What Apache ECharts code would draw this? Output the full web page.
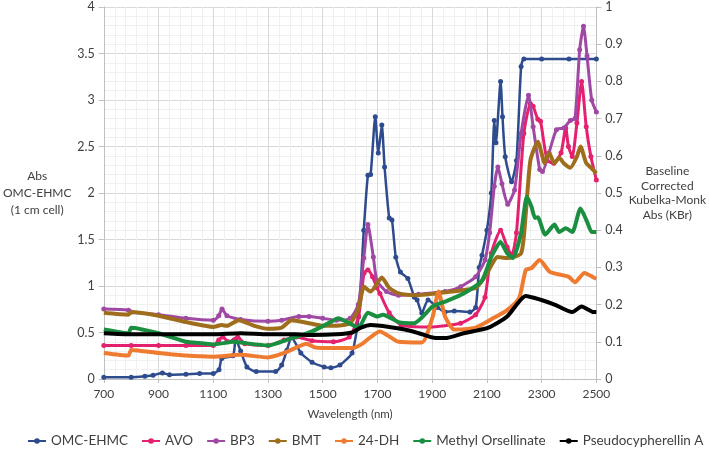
<!DOCTYPE html>
<html>
<head>
<meta charset="utf-8">
<script src="https://cdn.jsdelivr.net/npm/echarts@6/dist/echarts.min.js"></script>
<style>
  html, body { margin: 0; padding: 0; background: #fff; }
  #chart { width: 709px; height: 452px; }
</style>
</head>
<body>
<div id="chart"></div>
<script>
// [wavelength nm, Abs] - left axis
const omcEhmc = [[700,0.02],[800,0.02],[850,0.03],[880,0.04],[914,0.065],[940,0.045],[1000,0.05],[1050,0.06],[1100,0.06],
  [1121,0.1],[1131,0.22],[1172,0.25],[1182,0.43],[1200,0.3],[1223,0.13],[1257,0.08],[1328,0.08],[1350,0.15],[1369,0.31],
  [1386,0.45],[1420,0.28],[1461,0.18],[1505,0.13],[1530,0.12],[1563,0.15],[1607,0.28],[1631,0.67],[1650,1.6],[1665,2.19],
  [1675,2.2],[1692,2.82],[1703,2.43],[1716,2.73],[1726,2.28],[1743,1.73],[1753,1.71],[1767,1.31],[1784,1.15],[1811,1.08],
  [1835,0.88],[1845,0.85],[1862,0.71],[1885,0.85],[1919,0.77],[1947,0.72],[1981,0.73],[2038,0.72],[2059,0.77],[2072,1.2],
  [2082,1.33],[2100,1.6],[2116,2.0],[2127,2.78],[2133,2.54],[2150,3.2],[2157,2.82],[2167,2.39],[2190,2.12],[2208,2.35],
  [2225,3.36],[2235,3.44],[2300,3.44],[2400,3.44],[2500,3.44]];

// [wavelength nm, KM Abs] - right axis
const avo = [[700,0.09],[800,0.09],[900,0.09],[1000,0.09],[1100,0.09],[1120,0.105],[1135,0.113],[1155,0.1],[1175,0.105],
  [1189,0.113],[1215,0.095],[1300,0.09],[1359,0.105],[1403,0.113],[1461,0.103],[1539,0.1],[1597,0.113],[1631,0.168],
  [1651,0.285],[1665,0.293],[1682,0.275],[1698,0.245],[1709,0.23],[1743,0.178],[1787,0.145],[1889,0.14],[2004,0.15],
  [2059,0.173],[2093,0.22],[2116,0.338],[2150,0.4],[2174,0.355],[2191,0.333],[2208,0.393],[2235,0.66],[2259,0.74],
  [2269,0.733],[2286,0.698],[2296,0.693],[2320,0.588],[2344,0.58],[2371,0.608],[2388,0.675],[2398,0.625],[2412,0.598],
  [2429,0.688],[2446,0.8],[2463,0.678],[2480,0.598],[2500,0.535]];

const bp3 = [[700,0.188],[790,0.185],[800,0.18],[900,0.173],[1000,0.163],[1100,0.158],[1120,0.17],[1132,0.188],[1150,0.17],
  [1200,0.16],[1300,0.155],[1350,0.158],[1413,0.168],[1450,0.168],[1500,0.163],[1550,0.158],[1600,0.163],[1630,0.2],
  [1650,0.325],[1665,0.415],[1685,0.328],[1698,0.265],[1733,0.235],[1777,0.225],[1850,0.228],[1947,0.235],[2004,0.248],
  [2059,0.275],[2093,0.32],[2110,0.393],[2127,0.518],[2140,0.57],[2155,0.525],[2176,0.47],[2201,0.508],[2225,0.66],
  [2252,0.763],[2269,0.678],[2293,0.563],[2303,0.558],[2327,0.608],[2354,0.67],[2381,0.675],[2405,0.695],[2422,0.7],
  [2439,0.885],[2453,0.948],[2466,0.868],[2483,0.75],[2500,0.718]];

const bmt = [[700,0.178],[790,0.173],[800,0.18],[900,0.17],[1000,0.153],[1100,0.14],[1130,0.145],[1150,0.143],[1193,0.158],
  [1250,0.143],[1300,0.135],[1350,0.138],[1386,0.158],[1450,0.15],[1500,0.143],[1550,0.143],[1600,0.15],[1630,0.188],
  [1651,0.248],[1675,0.235],[1716,0.273],[1743,0.245],[1777,0.23],[1845,0.225],[1913,0.23],[1947,0.233],[2059,0.245],
  [2093,0.275],[2140,0.328],[2174,0.325],[2225,0.338],[2242,0.445],[2259,0.588],[2286,0.638],[2303,0.598],[2310,0.58],
  [2327,0.608],[2347,0.58],[2364,0.595],[2381,0.58],[2405,0.568],[2429,0.598],[2442,0.625],[2463,0.58],[2480,0.568],
  [2500,0.553]];

const dh24 = [[700,0.07],[790,0.063],[800,0.078],[900,0.07],[1000,0.063],[1100,0.06],[1199,0.065],[1300,0.058],[1359,0.07],
  [1413,0.088],[1440,0.095],[1471,0.085],[1500,0.083],[1550,0.083],[1607,0.083],[1641,0.093],[1709,0.128],[1777,0.1],
  [1862,0.098],[1902,0.168],[1923,0.235],[1947,0.168],[1981,0.133],[2059,0.138],[2127,0.165],[2174,0.185],[2218,0.218],
  [2242,0.293],[2263,0.298],[2293,0.32],[2330,0.288],[2398,0.275],[2422,0.26],[2456,0.285],[2490,0.273],[2500,0.27]];

const methylOrsellinate = [[700,0.133],[790,0.123],[800,0.138],[900,0.123],[1000,0.1],[1029,0.098],[1100,0.093],[1175,0.1],
  [1200,0.098],[1301,0.09],[1369,0.105],[1461,0.128],[1529,0.153],[1556,0.163],[1597,0.15],[1631,0.138],[1665,0.178],
  [1699,0.168],[1720,0.173],[1777,0.153],[1834,0.15],[1902,0.195],[1947,0.208],[2015,0.23],[2082,0.265],[2116,0.328],
  [2150,0.368],[2174,0.338],[2195,0.325],[2225,0.393],[2246,0.49],[2263,0.463],[2276,0.433],[2286,0.435],[2313,0.388],
  [2347,0.415],[2364,0.395],[2388,0.405],[2412,0.395],[2442,0.458],[2466,0.423],[2483,0.395],[2500,0.395]];

const pseudocypherellinA = [[700,0.123],[800,0.12],[900,0.12],[1000,0.12],[1100,0.12],[1200,0.123],[1300,0.12],[1400,0.12],
  [1460,0.118],[1550,0.12],[1607,0.125],[1640,0.138],[1675,0.145],[1743,0.14],[1800,0.133],[1851,0.123],[1913,0.11],
  [1947,0.11],[2015,0.123],[2106,0.138],[2174,0.168],[2242,0.223],[2296,0.213],[2347,0.2],[2412,0.18],[2446,0.195],
  [2490,0.18],[2500,0.18]];

const seriesNames = ['OMC-EHMC', 'AVO', 'BP3', 'BMT', '24-DH', 'Methyl Orsellinate', 'Pseudocypherellin A'];
const seriesColors = ['#2E4C8D', '#E4216E', '#A049A4', '#9E6E1C', '#EE7B30', '#1B8F40', '#000000'];
const seriesData = [omcEhmc, avo, bp3, bmt, dh24, methylOrsellinate, pseudocypherellinA];
const withMarkers = [true, true, true, false, false, false, false];

const font = 'Lato';
const chart = echarts.init(document.getElementById('chart'));

const series = seriesNames.map((name, i) => ({
  name: name,
  type: 'line',
  yAxisIndex: i === 0 ? 0 : 1,
  data: seriesData[i],
  smooth: 0.2,
  symbol: 'circle',
  symbolSize: withMarkers[i] ? 5 : 3,
  showSymbol: withMarkers[i],
  lineStyle: { width: i === 0 ? 2.5 : (withMarkers[i] ? 3 : 4), color: seriesColors[i] },
  itemStyle: { color: seriesColors[i] },
  z: 2 + i
}));

chart.setOption({
  animation: false,
  textStyle: { fontFamily: font },
  grid: { left: 83, right: 97, top: 7, bottom: 73 },
  legend: {
    top: 429,
    left: 22,
    right: 0,
    itemWidth: 18,
    itemHeight: 7,
    itemGap: 13,
    textStyle: { fontFamily: font, fontSize: 13.5, color: '#404040' },
    data: seriesNames
  },
  xAxis: {
    type: 'value',
    min: 700,
    max: 2500,
    interval: 200,
    name: 'Wavelength (nm)',
    nameLocation: 'middle',
    nameGap: 29,
    nameTextStyle: { fontFamily: font, fontSize: 11.5, color: '#404040' },
    axisLine: { show: true, onZero: false, lineStyle: { color: '#BFBFBF' } },
    axisTick: { show: true, length: 4, lineStyle: { color: '#BFBFBF' } },
    axisLabel: { fontFamily: font, fontSize: 12, color: '#404040', margin: 9, formatter: v => String(v) },
    splitLine: { show: true, lineStyle: { color: '#D9D9D9' } },
    minorTick: { show: false, splitNumber: 5 },
    minorSplitLine: { show: true, lineStyle: { color: '#F0F0F0' } }
  },
  yAxis: [
    {
      type: 'value',
      min: 0,
      max: 4,
      interval: 0.5,
      name: 'Abs\nOMC-EHMC\n(1 cm cell)',
      nameLocation: 'middle',
      nameRotate: 0,
      nameGap: 48,
      nameTextStyle: { fontFamily: font, fontSize: 12, color: '#404040', align: 'center', lineHeight: 17 },
      axisLine: { show: true, lineStyle: { color: '#BFBFBF' } },
      axisTick: { show: true, length: 5, lineStyle: { color: '#BFBFBF' } },
      axisLabel: { fontFamily: font, fontSize: 12.5, color: '#404040', margin: 9 },
      splitLine: { show: true, lineStyle: { color: '#D9D9D9' } },
      minorTick: { show: false, splitNumber: 5 },
      minorSplitLine: { show: true, lineStyle: { color: '#F0F0F0' } }
    },
    {
      type: 'value',
      min: 0,
      max: 1,
      interval: 0.1,
      position: 'right',
      name: 'Baseline\nCorrected\nKubelka-Monk\nAbs (KBr)',
      nameLocation: 'middle',
      nameRotate: 0,
      nameGap: 53,
      nameTextStyle: { fontFamily: font, fontSize: 12, color: '#404040', align: 'center', lineHeight: 14.5 },
      axisLine: { show: true, lineStyle: { color: '#BFBFBF' } },
      axisTick: { show: true, length: 5, lineStyle: { color: '#BFBFBF' } },
      axisLabel: { fontFamily: font, fontSize: 12.5, color: '#404040', margin: 9 },
      splitLine: { show: false }
    }
  ],
  series: series
});
</script>
</body>
</html>
